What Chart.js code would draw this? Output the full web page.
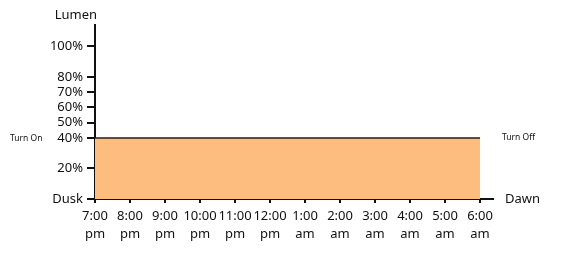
<!DOCTYPE html>
<html>
<head>
<meta charset="utf-8">
<script src="https://cdn.jsdelivr.net/npm/chart.js@4.4.1/dist/chart.umd.min.js"></script>
<style>
    html, body { margin: 0; padding: 0; background: #fff; }
    #wrap { width: 561px; height: 265px; }
</style>
</head>
<body>
<div id="wrap"><canvas id="lumenChart" width="561" height="265"></canvas></div>
<script>
// Schedule data
const hours = ['7:00', '8:00', '9:00', '10:00', '11:00', '12:00', '1:00', '2:00', '3:00', '4:00', '5:00', '6:00'];
const periods = ['pm', 'pm', 'pm', 'pm', 'pm', 'pm', 'am', 'am', 'am', 'am', 'am', 'am'];
const lumenLevels = [40, 40, 40, 40, 40, 40, 40, 40, 40, 40, 40, 40];
const yTickValues = [0, 20, 40, 50, 60, 70, 80, 100];

const FONT = "'Noto Sans', sans-serif";

// Extra labels around the axes
const labelsPlugin = {
    id: 'labels',
    afterDraw(chart) {
        const ctx = chart.ctx;
        const area = chart.chartArea;
        const y = chart.scales.y;
        ctx.save();
        ctx.fillStyle = '#111';
        ctx.textBaseline = 'middle';

        ctx.font = '13px ' + FONT;
        ctx.textAlign = 'right';
        ctx.fillText('Lumen', area.left + 2, area.top - 10);
        ctx.textAlign = 'left';
        ctx.fillText('Dawn', area.right + 12, area.bottom);

        ctx.font = '8.5px ' + FONT;
        ctx.fillText('Turn On', 10, y.getPixelForValue(40) + 1);
        ctx.fillText('Turn Off', 502, y.getPixelForValue(40) - 0.5);
        ctx.restore();
    }
};

const ctx = document.getElementById('lumenChart').getContext('2d');
new Chart(ctx, {
    type: 'line',
    data: {
        datasets: [{
            data: lumenLevels.map((v, i) => ({ x: i, y: v })),
            borderColor: '#2b1d12',
            borderWidth: 1.5,
            backgroundColor: '#fdbd7f',
            fill: 'origin',
            pointRadius: 0,
            tension: 0
        }]
    },
    options: {
        responsive: false,
        animation: false,
        layout: { padding: { top: 25, right: 68, left: 0, bottom: 0 } },
        plugins: {
            legend: { display: false },
            tooltip: { enabled: false }
        },
        scales: {
            x: {
                type: 'linear',
                min: 0,
                max: 11.37,
                z: 1,
                afterBuildTicks: (scale) => {
                    scale.ticks = hours.map((h, i) => ({ value: i }));
                },
                afterFit: (scale) => { scale.height = 66; },
                border: { display: true, color: '#111', width: 2 },
                grid: {
                    drawOnChartArea: false,
                    drawTicks: true,
                    tickLength: 4,
                    color: '#111',
                    lineWidth: 2
                },
                ticks: {
                    autoSkip: false,
                    maxRotation: 0,
                    padding: 4,
                    color: '#111',
                    font: { family: FONT, size: 13, lineHeight: 1.38 },
                    callback: (v) => [hours[v], periods[v]]
                }
            },
            y: {
                min: 0,
                max: 114,
                z: 1,
                afterBuildTicks: (scale) => {
                    scale.ticks = yTickValues.map(v => ({ value: v }));
                },
                afterFit: (scale) => { scale.width = 95; },
                border: { display: true, color: '#111', width: 2 },
                grid: {
                    drawOnChartArea: false,
                    drawTicks: true,
                    tickLength: 8,
                    color: '#111',
                    lineWidth: 2
                },
                ticks: {
                    autoSkip: false,
                    padding: 4,
                    color: '#111',
                    font: { family: FONT, size: 13 },
                    callback: (v) => v === 0 ? 'Dusk' : v + '%'
                }
            }
        }
    },
    plugins: [labelsPlugin]
});
</script>
</body>
</html>
